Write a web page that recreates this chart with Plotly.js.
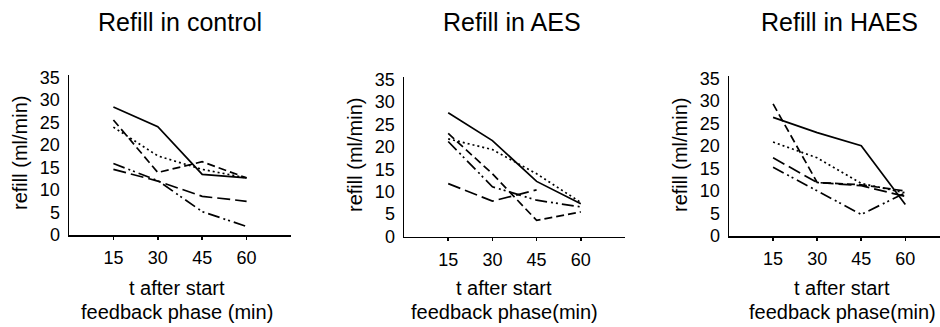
<!DOCTYPE html>
<html>
<head>
<meta charset="utf-8">
<script src="https://cdn.plot.ly/plotly-3.0.1.min.js"></script>
<style>html,body{margin:0;padding:0;background:#fff;}#chart{width:940px;height:327px;}</style>
</head>
<body>
<div id="chart"></div>
<script>
// ---- data ----
const timePoints = [15, 30, 45, 60];
const panelTitles = ["Refill in control", "Refill in AES", "Refill in HAES"];
const yTitle = "refill (ml/min)";
const xTitleLine1 = "t after start";
const xTitleLine2 = ["feedback phase (min)", "feedback phase(min)", "feedback phase(min)"];

// control
const controlSolid   = [28.5, 24.1, 13.5, 12.7];
const controlDotted  = [24.0, 17.6, 14.6, 12.7];
const controlDashed  = [25.6, 13.9, 16.3, 12.7];
const controlLong    = [14.6, 12.0, 8.6, 7.5];
const controlDashDot = [15.9, 12.1, 5.2, 1.9];
// AES
const aesSolid   = [27.6, 21.4, 12.3, 7.3];
const aesDotted  = [21.8, 19.4, 14.0, 7.6];
const aesDashed  = [23.0, 14.0, 3.6, 5.5];
const aesLong    = [11.8, 7.9, 10.4, null];
const aesDashDot = [21.2, 11.1, 8.1, 6.6];
// HAES
const haesSolid   = [26.4, 23.0, 20.1, 7.0];
const haesDotted  = [20.9, 17.4, 11.7, 9.6];
const haesDashed  = [29.4, 11.9, 11.4, 10.0];
const haesLong    = [17.4, 11.9, 11.2, 8.8];
const haesDashDot = [15.3, 10.1, 4.8, 9.6];

// ---- styles ----
const dashes = ["solid", "2px,3px", "8px,4px", "13px,5px", "12px,4px,2px,3px,2px,4px"];
const panels = [
  [controlSolid, controlDotted, controlDashed, controlLong, controlDashDot],
  [aesSolid, aesDotted, aesDashed, aesLong, aesDashDot],
  [haesSolid, haesDotted, haesDashed, haesLong, haesDashDot]
];
const W = 940, H = 327;
const xPix = [[69, 291], [404, 625], [729, 940]];
const xRanges = [[0, 75], [0, 75], [0, 71.8]];
const yPix = [[75, 235], [77, 236.5], [76, 236]];
const yTitleX = [20, 355, 680];
const yTitleY = [153, 155, 155];
const titleX = [180, 512, 839];
const xTitleX = [177, 504, 842];

const traces = [];
panels.forEach((series, p) => {
  series.forEach((vals, s) => {
    traces.push({
      type: "scatter", mode: "lines",
      x: timePoints, y: vals,
      xaxis: p === 0 ? "x" : "x" + (p + 1),
      yaxis: p === 0 ? "y" : "y" + (p + 1),
      line: {color: "#000", width: 1.7, dash: dashes[s]},
      connectgaps: false, hoverinfo: "skip"
    });
  });
});

const font = "Liberation Sans, Arial, Helvetica, sans-serif";
const layout = {
  width: W, height: H,
  margin: {l: 0, r: 0, t: 0, b: 0},
  showlegend: false,
  paper_bgcolor: "#fff", plot_bgcolor: "rgba(0,0,0,0)",
  font: {family: font, color: "#000"},
  annotations: []
};
for (let p = 0; p < 3; p++) {
  const sx = p === 0 ? "" : String(p + 1);
  layout["xaxis" + sx] = {
    domain: [xPix[p][0] / W, xPix[p][1] / W],
    range: xRanges[p], tickvals: timePoints, ticktext: timePoints.map(String),
    ticks: "outside", ticklen: 3, tickwidth: 1.5, tickcolor: "#000",
    showline: true, linecolor: "#000", linewidth: 1.5,
    showgrid: false, zeroline: false, fixedrange: true,
    tickfont: {size: 18, family: font, color: "#000"},
    ticklabelstandoff: 3,
    anchor: "y" + sx
  };
  layout["yaxis" + sx] = {
    domain: [(H - yPix[p][1]) / H, (H - yPix[p][0]) / H],
    range: [0, 35.6], tickvals: [0, 5, 10, 15, 20, 25, 30, 35],
    ticks: "", ticklabelstandoff: 4,
    showline: true, linecolor: "#000", linewidth: 1.5,
    showgrid: false, zeroline: false, fixedrange: true,
    tickfont: {size: 18, family: font, color: "#000"},
    anchor: "x" + sx
  };
  layout.annotations.push({
    text: panelTitles[p], xref: "paper", yref: "paper",
    x: titleX[p] / W, y: (H - 22) / H, xanchor: "center", yanchor: "middle",
    showarrow: false, font: {size: 25, family: font, color: "#000"}
  });
  layout.annotations.push({
    text: yTitle, xref: "paper", yref: "paper", textangle: -90,
    x: yTitleX[p] / W, y: (H - yTitleY[p]) / H, xanchor: "center", yanchor: "middle",
    showarrow: false, font: {size: 20, family: font, color: "#000"}
  });
  layout.annotations.push({
    text: xTitleLine1, xref: "paper", yref: "paper",
    x: xTitleX[p] / W, y: (H - 288) / H, xanchor: "center", yanchor: "middle",
    showarrow: false, font: {size: 20, family: font, color: "#000"}
  });
  layout.annotations.push({
    text: xTitleLine2[p], xref: "paper", yref: "paper",
    x: xTitleX[p] / W, y: (H - 312) / H, xanchor: "center", yanchor: "middle",
    showarrow: false, font: {size: 20, family: font, color: "#000"}
  });
}
Plotly.newPlot("chart", traces, layout, {staticPlot: true, displayModeBar: false});
</script>
</body>
</html>
